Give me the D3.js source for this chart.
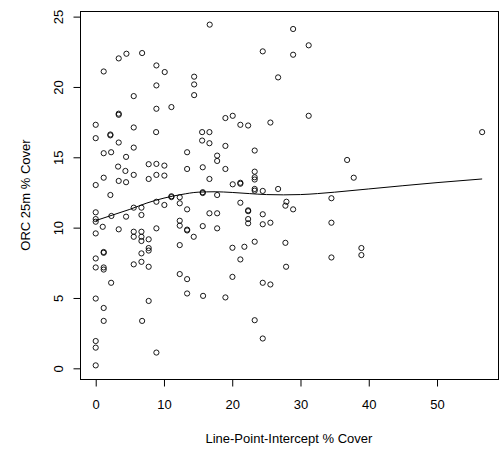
<!DOCTYPE html>
<html><head><meta charset="utf-8">
<script src="https://cdn.jsdelivr.net/npm/d3@7"></script>
<style>body{margin:0;background:#fff} text{font-family:"Liberation Sans",Arial,sans-serif}</style>
</head><body><svg id="c" width="500" height="456"></svg>
<script>
const xValues=[16.70,3.37,4.50,6.80,1.17,8.89,10.11,14.42,14.42,8.89,14.42,5.57,8.89,11.09,3.37,3.37,0,5.57,28.92,31.20,24.47,28.92,26.72,19.00,20.07,21.19,22.33,25.59,31.20,0,2.15,2.15,8.85,15.59,16.66,15.59,16.66,3.37,5.57,1.17,2.26,4.45,13.39,19.00,23.29,17.79,17.79,36.83,3.28,4.35,5.57,7.76,8.89,10.06,13.39,15.68,19.00,23.29,23.29,23.29,37.80,1.17,0,3.37,4.45,7.76,8.89,10.06,16.66,20.07,21.19,21.19,2.15,8.89,10.06,11.09,11.09,12.31,12.31,13.39,15.68,15.68,17.79,23.29,23.29,24.47,26.72,34.53,21.19,27.94,27.79,28.92,5.57,6.70,6.70,0,0,0,2.30,4.45,16.66,17.79,22.33,22.33,22.33,22.33,24.47,1.03,3.37,0,5.57,6.70,5.57,6.70,6.70,7.76,8.89,12.31,12.31,13.39,13.39,14.36,15.68,17.79,24.47,25.59,34.53,23.29,20.03,21.78,27.79,1.17,1.17,0,0,1.17,1.17,6.70,7.76,7.76,5.57,6.70,7.76,12.31,2.26,12.31,13.39,13.39,15.73,0,1.17,7.76,1.17,6.80,0,0,8.89,0,20.03,21.19,27.89,34.53,24.47,25.59,19.00,23.29,24.47,56.61,38.92,38.92];
const yValues=[24.43,22.03,22.36,22.41,21.10,21.53,21.06,20.73,20.18,20.11,19.42,19.35,18.45,18.57,18.10,18.02,17.31,17.12,24.12,22.96,22.53,22.29,20.68,17.79,17.95,17.31,17.26,17.47,17.95,16.36,16.62,16.56,16.79,16.79,16.79,16.19,16.00,16.05,15.69,15.29,15.36,15.03,15.36,15.81,15.48,15.12,14.74,14.81,14.34,14.03,13.75,14.51,14.53,14.41,14.17,14.29,14.17,13.98,13.58,13.42,13.55,13.55,13.03,13.32,13.23,13.46,13.75,13.70,13.46,13.08,13.19,13.12,12.32,11.84,11.61,12.23,12.17,12.16,11.73,11.30,12.52,12.46,12.32,12.75,12.63,12.61,12.75,12.09,11.77,11.84,11.56,11.30,11.42,11.42,10.90,11.09,10.61,10.42,10.83,10.78,11.02,11.02,11.23,11.17,10.61,10.31,10.95,10.06,9.88,9.59,9.71,9.71,9.35,9.35,9.05,9.17,9.95,10.49,10.14,9.86,9.80,9.35,10.11,9.95,10.24,10.35,10.35,9.00,8.57,8.64,8.92,8.27,8.21,7.81,7.17,7.17,7.02,8.17,8.55,8.37,7.39,7.57,7.22,8.76,6.08,6.70,6.34,5.32,5.15,4.96,4.29,4.79,3.37,3.37,1.94,1.47,1.12,0.21,6.50,7.74,7.22,7.88,6.08,5.96,5.04,3.42,2.12,16.79,8.55,8.05];
const fitX=[0,2.5,5,7.5,10,12.5,15,17.5,20,22.5,25,27.5,30,32.5,35,40,45,50,56.61];
const fitY=[10.5,10.9,11.3,11.75,12.1,12.35,12.52,12.55,12.5,12.42,12.35,12.33,12.35,12.42,12.52,12.75,12.98,13.2,13.46];
const xTicks=[0,10,20,30,40,50];
const yTicks=[0,5,10,15,20,25];
const xTitle="Line-Point-Intercept % Cover";
const yTitle="ORC 25m % Cover";

const L=80.25,R=497.6,T=11,B=379;
const xe=d3.extent(xValues), ye=d3.extent(yValues);
const px=(xe[1]-xe[0])*0.04, py=(ye[1]-ye[0])*0.04;
const x=d3.scaleLinear().domain([xe[0]-px,xe[1]+px]).range([L,R]);
const y=d3.scaleLinear().domain([ye[0]-py,ye[1]+py]).range([B,T]);
const svg=d3.select("#c");

svg.append("rect").attr("x",Math.round(L)+0.5).attr("y",T+0.5)
  .attr("width",Math.round(R)-Math.round(L)).attr("height",B-T)
  .attr("fill","none").attr("stroke","#000").attr("stroke-width",1);

const gx=svg.append("g").attr("transform",`translate(0,${B+0.5})`)
  .call(d3.axisBottom(x).tickValues(xTicks).tickSize(7).tickPadding(13).tickFormat(d3.format("d")));
gx.select(".domain").remove();
gx.selectAll("line").attr("stroke","#000");
gx.selectAll("text").attr("font-size",13).attr("fill","#000").attr("font-family","Liberation Sans, Arial, sans-serif");

const gy=svg.append("g").attr("transform",`translate(${Math.round(L)+0.5},0)`)
  .call(d3.axisLeft(y).tickValues(yTicks).tickSize(7).tickFormat(d3.format("d")));
gy.select(".domain").remove();
gy.selectAll("line").attr("stroke","#000");
gy.selectAll("text").attr("font-size",13).attr("fill","#000").attr("font-family","Liberation Sans, Arial, sans-serif")
  .attr("x",null).attr("dy",null).attr("text-anchor","middle")
  .attr("transform","translate(-18,0) rotate(-90)");

svg.append("text").attr("x",(L+R)/2).attr("y",443).attr("text-anchor","middle")
  .attr("font-size",13).attr("fill","#000").text(xTitle);
svg.append("text").attr("transform",`translate(29.5,${(T+B)/2}) rotate(-90)`).attr("text-anchor","middle")
  .attr("font-size",13).attr("fill","#000").text(yTitle);

svg.append("g").selectAll("circle").data(xValues.map((v,i)=>[v,yValues[i]])).join("circle")
  .attr("cx",d=>x(d[0])).attr("cy",d=>y(d[1])).attr("r",2.6)
  .attr("fill","none").attr("stroke","#000").attr("stroke-width",0.9);

svg.append("path").datum(fitX.map((v,i)=>[v,fitY[i]]))
  .attr("d",d3.line().x(d=>x(d[0])).y(d=>y(d[1])).curve(d3.curveMonotoneX))
  .attr("fill","none").attr("stroke","#000").attr("stroke-width",1);
</script></body></html>
